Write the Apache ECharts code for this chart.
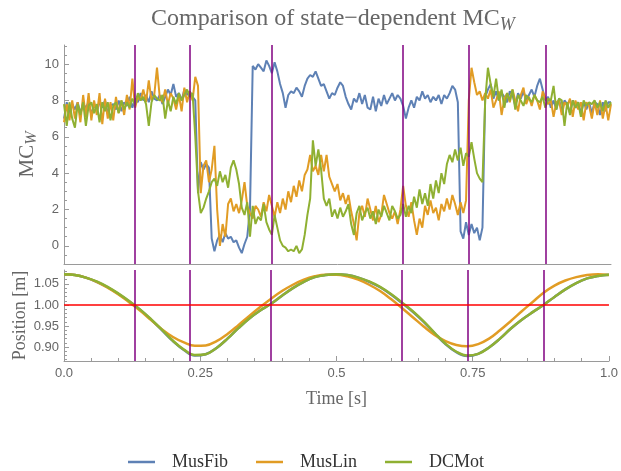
<!DOCTYPE html>
<html>
<head>
<meta charset="utf-8">
<script src="https://cdn.jsdelivr.net/npm/echarts/dist/echarts.min.js"></script>
<style>
html,body{margin:0;padding:0;background:#fff;}
#chart{width:621px;height:471px;}
</style>
</head>
<body>
<div id="chart"></div>
<script>
// ---- data ----
const SERIES_NAMES = ['MusFib', 'MusLin', 'DCMot'];
const MC_STEP = 0.005; // time step of the MC_W samples [s]
const MUSFIB_MC = [
  7.0, 7.9, 7.2, 7.8, 7.5, 7.9, 7.3, 7.8, 7.6, 7.9,
  7.2, 7.8, 7.4, 7.9, 7.6, 8.0, 7.3, 7.7, 7.8, 7.5,
  8.0, 7.4, 7.9, 7.7, 8.2, 7.6, 8.1, 7.9, 8.4, 8.0,
  8.3, 7.9, 8.5, 8.1, 8.0, 8.3, 7.8, 8.2, 8.6, 8.3,
  8.9, 8.2, 8.4, 8.0, 8.6, 8.3, 8.5, 8.2, 8.0, 2.9,
  4.6, 4.2, 4.5, 4.3, 0.4, -0.3, 0.3, 0.6, 0.2, 0.7,
  0.4, 0.5, 0.2, 0.3, -0.1, -0.4, 0.1, 0.5, 2.0, 9.9,
  9.7, 10.0, 9.8, 9.6, 10.2, 9.9, 9.5, 10.1, 9.6, 8.9,
  8.4, 7.6, 8.3, 8.5, 8.4, 8.7, 8.5, 8.2, 8.8, 9.2,
  9.4, 9.3, 9.6, 9.2, 8.8, 8.9, 8.5, 8.1, 8.4, 8.3,
  8.7, 9.0, 8.8, 8.2, 7.8, 7.5, 8.1, 7.9, 8.4, 7.8,
  8.3, 7.6, 7.5, 8.2, 7.4, 8.1, 7.7, 8.3, 7.8, 8.1,
  8.4, 8.0, 8.3, 8.1, 7.7, 7.0, 7.6, 8.0, 7.6, 8.2,
  8.0, 8.5, 8.1, 8.3, 7.9, 8.2, 8.0, 8.3, 7.8, 8.3,
  8.1, 8.4, 8.8, 8.6, 7.9, 0.8, 0.4, 1.3, 0.6, 1.2,
  0.7, 1.0, 0.3, 1.0, 8.2, 8.6, 8.9, 8.1, 8.5, 8.0,
  8.4, 8.2, 7.9, 8.5, 8.3, 7.7, 8.4, 8.1, 8.5, 8.0,
  8.3, 8.6, 8.2, 8.8, 9.2, 8.6, 8.0, 8.2, 7.6, 8.0,
  7.5, 8.1, 7.4, 8.0, 7.8, 7.3, 8.0, 7.6, 7.9, 7.3,
  7.9, 7.5, 7.9, 7.3, 7.9, 7.8, 7.2, 7.9, 7.4, 7.9,
  7.9
];
const MUSLIN_MC = [
  6.8, 7.8, 6.9, 8.0, 7.0, 7.9, 6.8, 8.3, 7.1, 8.4,
  6.9, 8.0, 7.2, 8.4, 6.7, 8.1, 7.0, 7.9, 6.9, 8.2,
  7.3, 8.0, 7.2, 8.3, 7.5, 9.2, 7.6, 8.2, 8.0, 8.6,
  7.9, 9.1, 8.0, 8.3, 9.8, 8.2, 7.9, 8.6, 7.8, 8.4,
  8.1, 7.5, 8.3, 7.4, 8.7, 7.9, 8.5, 8.0, 9.3, 8.8,
  2.9, 4.4, 4.7, 3.5, 4.2, 5.5, 2.0, 0.0, 1.2, 0.5,
  2.3, 2.6, 1.9, 2.3, 1.8, 2.5, 3.5, 2.2, 1.8, 1.5,
  2.2, 2.0, 1.6, 2.4, 1.9, 2.8, 2.2, 1.6, 2.4, 1.8,
  2.6, 2.0, 3.0, 2.4, 3.3, 2.7, 3.6, 3.0, 3.9, 4.2,
  5.0, 4.1, 4.4, 3.9, 5.0, 4.1, 5.0, 3.8, 3.4, 3.0,
  3.4, 2.5, 2.9, 2.3, 2.8, 1.9, 1.2, 0.3, 1.8, 2.2,
  1.6, 2.6, 2.0, 1.4, 2.2, 1.3, 1.7, 2.8, 2.3, 1.8,
  1.5, 1.9, 1.2, 2.0, 3.3, 2.2, 1.6, 2.4, 1.4, 0.6,
  1.5, 1.0, 2.2, 1.7, 2.5, 1.8, 2.1, 1.4, 2.3, 1.9,
  2.6, 2.0, 2.8, 2.3, 1.7, 2.4, 1.8, 2.5, 8.0, 9.8,
  9.0, 8.3, 8.5, 8.0, 8.4, 8.1, 8.6, 7.6, 8.0, 8.5,
  7.2, 8.1, 8.4, 7.9, 8.6, 8.0, 7.4, 8.3, 8.7, 7.8,
  8.2, 7.7, 8.3, 8.0, 7.5, 8.5, 8.1, 7.8, 8.0, 7.1,
  7.9, 8.0, 7.2, 7.9, 7.7, 8.1, 7.1, 8.0, 7.5, 7.9,
  6.9, 7.9, 7.7, 7.0, 7.9, 7.2, 8.0, 7.0, 7.8, 6.9,
  7.8
];
const DCMOT_MC = [
  7.8, 6.6, 7.9, 7.0, 6.5, 7.8, 7.2, 7.9, 6.6, 7.7,
  7.9, 7.3, 7.8, 6.8, 7.9, 7.4, 7.9, 6.9, 7.7, 7.9,
  7.3, 8.0, 7.5, 7.9, 7.6, 8.1, 7.8, 8.4, 8.0, 8.2,
  7.8, 6.6, 7.9, 8.3, 8.1, 8.0, 8.3, 7.0, 8.0, 7.4,
  8.2, 7.8, 8.4, 8.0, 8.3, 8.6, 8.2, 8.4, 6.0, 3.0,
  1.8, 2.1, 2.6, 3.0, 3.5, 3.7, 3.3, 4.1, 3.5, 3.9,
  3.2, 4.3, 4.7, 4.2, 3.4, 2.1, 1.7, 2.4, 0.5, 2.2,
  1.2, 1.6, 1.4, 2.3, 1.3, 0.9, 0.6, 1.7, 1.0, 0.3,
  0.0, -0.1, -0.3, -0.2, -0.3, 0.0, -0.4, -0.2, 0.6, 1.7,
  2.6, 5.8, 4.4, 5.3, 4.2, 2.6, 2.2, 2.6, 1.6, 2.0,
  1.5, 2.1, 1.6, 1.9, 2.3, 1.2, 0.6, 1.8, 2.2, 1.4,
  1.8, 2.1, 1.5, 1.9, 1.2, 2.0, 1.6, 2.2, 1.8, 1.4,
  2.2, 1.9, 1.5, 1.7, 2.3, 1.6, 2.2, 1.8, 2.7, 2.1,
  3.1, 2.3, 2.9, 2.2, 3.4, 2.6, 3.6, 2.9, 4.0, 3.4,
  4.5, 5.0, 4.6, 5.3, 4.7, 5.4, 4.4, 5.1, 4.9, 5.7,
  4.8, 4.0, 3.7, 3.5, 8.0, 9.8, 8.9, 8.2, 9.2, 8.0,
  8.6, 7.6, 8.4, 8.0, 8.6, 7.5, 8.3, 8.0, 7.7, 8.3,
  8.1, 7.9, 8.3, 8.0, 7.9, 8.2, 7.6, 8.1, 8.0, 8.8,
  7.5, 8.1, 8.0, 6.6, 7.9, 7.2, 8.0, 7.6, 7.9, 7.1,
  8.0, 7.7, 7.9, 7.8, 8.0, 7.6, 7.9, 7.4, 8.0, 7.6,
  7.9
];
const POS_STEP = 0.02; // time step of the position samples [s]
const MUSFIB_POS = [
  1.073, 1.071, 1.065, 1.055, 1.042, 1.026, 1.008, 0.988, 0.965, 0.940,
  0.914, 0.893, 0.880, 0.883, 0.898, 0.920, 0.945, 0.968, 0.987, 1.003,
  1.022, 1.040, 1.055, 1.066, 1.071, 1.073, 1.071, 1.065, 1.055, 1.042,
  1.025, 1.005, 0.984, 0.960, 0.933, 0.907, 0.888, 0.879, 0.884, 0.899,
  0.920, 0.944, 0.965, 0.983, 1.000, 1.019, 1.037, 1.052, 1.063, 1.069,
  1.072
];
const MUSLIN_POS = [
  1.073, 1.071, 1.065, 1.055, 1.041, 1.025, 1.006, 0.986, 0.964, 0.942,
  0.924, 0.911, 0.903, 0.904, 0.914, 0.931, 0.952, 0.974, 0.995, 1.015,
  1.033, 1.048, 1.060, 1.068, 1.072, 1.072, 1.068, 1.060, 1.048, 1.033,
  1.014, 0.993, 0.971, 0.949, 0.929, 0.914, 0.905, 0.902, 0.907, 0.920,
  0.940, 0.962, 0.985, 1.007, 1.029, 1.046, 1.058, 1.066, 1.071, 1.073,
  1.071
];
const DCMOT_POS = [
  1.073, 1.071, 1.065, 1.056, 1.043, 1.027, 1.009, 0.989, 0.966, 0.941,
  0.915, 0.894, 0.881, 0.883, 0.898, 0.920, 0.945, 0.968, 0.987, 1.003,
  1.022, 1.040, 1.055, 1.066, 1.071, 1.073, 1.071, 1.065, 1.056, 1.043,
  1.026, 1.006, 0.985, 0.961, 0.934, 0.908, 0.889, 0.880, 0.884, 0.899,
  0.920, 0.944, 0.965, 0.983, 1.000, 1.019, 1.037, 1.052, 1.063, 1.069,
  1.072
];
const EVENT_TIMES = [0.13, 0.23, 0.38, 0.62, 0.74, 0.88];
const REF_POSITION = 1.0;
const MC_TICKS = [0, 2, 4, 6, 8, 10];
const MC_MINOR_TICKS = [-0.5, 0.5, 1, 1.5, 2.5, 3, 3.5, 4.5, 5, 5.5, 6.5, 7, 7.5, 8.5, 9, 9.5, 10.5, 11];
const POS_TICKS = [0.90, 0.95, 1.00, 1.05];
const POS_MINOR_TICKS = [0.87, 0.88, 0.89, 0.91, 0.92, 0.93, 0.94, 0.96, 0.97, 0.98, 0.99, 1.01, 1.02, 1.03, 1.04, 1.06, 1.07, 1.08];
const TIME_TICK_LABELS = {0: '0.0', 0.25: '0.25', 0.5: '0.5', 0.75: '0.75', 1: '1.0'};

// ---- chart ----
const COLORS = ['#5E81B5', '#E19C24', '#8FB032'];
const SERIF = 'Liberation Serif';
const SANS = 'Liberation Sans';
const AXIS_GRAY = '#9a9a9a';
const TEXT_GRAY = '#666666';

function pairs(arr, step) {
  return arr.map((v, i) => [+(i * step).toFixed(4), v]);
}

const chart = echarts.init(document.getElementById('chart'), null, {renderer: 'canvas'});

const mcData = [MUSFIB_MC, MUSLIN_MC, DCMOT_MC];
const posData = [MUSFIB_POS, MUSLIN_POS, DCMOT_POS];

const series = [];
SERIES_NAMES.forEach((name, k) => {
  series.push({
    name: name, type: 'line', xAxisIndex: 0, yAxisIndex: 0,
    data: pairs(mcData[k], MC_STEP), showSymbol: false, symbol: 'none',
    lineStyle: {color: COLORS[k], width: 2}, itemStyle: {color: COLORS[k]},
    z: 2 + k, silent: true
  });
});
SERIES_NAMES.forEach((name, k) => {
  series.push({
    name: name, type: 'line', xAxisIndex: 1, yAxisIndex: 2,
    data: pairs(posData[k], POS_STEP), showSymbol: false, symbol: 'none', smooth: 0.4,
    lineStyle: {color: COLORS[k], width: 2.5}, itemStyle: {color: COLORS[k]},
    z: 2 + k, silent: true
  });
});
const vlineMark = {
  silent: true, symbol: ['none', 'none'], animation: false,
  label: {show: false},
  lineStyle: {color: '#800080', width: 1.5, type: 'solid'},
  data: EVENT_TIMES.map(t => ({xAxis: t}))
};
series.push({type: 'line', xAxisIndex: 0, yAxisIndex: 0, data: [], z: 10, markLine: vlineMark});
series.push({type: 'line', xAxisIndex: 1, yAxisIndex: 2, data: [], z: 10, markLine: vlineMark});
series.push({type: 'line', xAxisIndex: 1, yAxisIndex: 2, data: [], z: 9, markLine: {
  silent: true, symbol: ['none', 'none'], label: {show: false},
  lineStyle: {color: '#ff0000', width: 1.5, type: 'solid'},
  data: [{yAxis: REF_POSITION}]
}});

const axisLine = {show: true, onZero: false, lineStyle: {color: AXIS_GRAY, width: 1}};
const tickLabel = {color: TEXT_GRAY, fontFamily: SANS, fontSize: 13};

const option = {
  animation: false,
  backgroundColor: '#ffffff',
  title: {
    text: '{a|Comparison of state\u2212dependent MC}{w|W}',
    left: 146, top: -1,
    textStyle: {
      fontWeight: 'normal',
      rich: {
        a: {fontFamily: SERIF, fontSize: 24, fontWeight: 'normal', color: TEXT_GRAY, lineHeight: 30},
        w: {fontFamily: SERIF, fontSize: 18, fontWeight: 'normal', fontStyle: 'italic', color: TEXT_GRAY, lineHeight: 14, verticalAlign: 'bottom'}
      }
    }
  },
  legend: {
    data: SERIES_NAMES,
    left: 128, top: 453, padding: 0,
    icon: 'rect', itemWidth: 27, itemHeight: 2.5, itemGap: 28,
    textStyle: {fontFamily: SERIF, fontSize: 18, color: '#333', padding: [0, 0, 0, 12]},
    selectedMode: false
  },
  grid: [
    {left: 64, top: 45, width: 547, height: 219, containLabel: false},
    {left: 64, top: 270, width: 547, height: 91, containLabel: false}
  ],
  xAxis: [
    {gridIndex: 0, type: 'value', min: 0, max: 1, axisLine: axisLine,
     axisTick: {show: false}, axisLabel: {show: false}, splitLine: {show: false}},
    {gridIndex: 1, type: 'value', min: 0, max: 1, interval: 0.25, axisLine: axisLine,
     axisTick: {show: true, inside: true, length: 5, lineStyle: {color: AXIS_GRAY}},
     minorTick: {show: true, splitNumber: 5, length: 3, lineStyle: {color: AXIS_GRAY}},
     axisLabel: Object.assign({margin: 6, formatter: v => TIME_TICK_LABELS[v] !== undefined ? TIME_TICK_LABELS[v] : String(v)}, tickLabel),
     splitLine: {show: false},
     name: 'Time [s]', nameLocation: 'middle', nameGap: 29, nameMoveOverlap: false,
     nameTextStyle: {fontFamily: SERIF, fontSize: 18, color: TEXT_GRAY}}
  ],
  yAxis: [
    {gridIndex: 0, type: 'value', min: -1, max: 11.05, position: 'left', axisLine: axisLine,
     axisTick: {show: true, inside: true, length: 5, customValues: MC_TICKS, lineStyle: {color: AXIS_GRAY}},
     axisLabel: Object.assign({margin: 5, customValues: MC_TICKS}, tickLabel),
     splitLine: {show: false},
     name: '{a|MC}{w|W}', nameLocation: 'middle', nameGap: 24, nameMoveOverlap: false,
     nameTextStyle: {rich: {
       a: {fontFamily: SERIF, fontSize: 21, color: TEXT_GRAY, lineHeight: 26},
       w: {fontFamily: SERIF, fontSize: 16, fontStyle: 'italic', color: TEXT_GRAY, lineHeight: 12, verticalAlign: 'bottom'}
     }}},
    {gridIndex: 0, type: 'value', min: -1, max: 11.05, position: 'left', axisLine: {show: false},
     axisTick: {show: true, inside: true, length: 3, customValues: MC_MINOR_TICKS, lineStyle: {color: AXIS_GRAY}},
     axisLabel: {show: false}, splitLine: {show: false}},
    {gridIndex: 1, type: 'value', min: 0.867, max: 1.083, position: 'left', axisLine: axisLine,
     axisTick: {show: true, inside: true, length: 5, customValues: POS_TICKS, lineStyle: {color: AXIS_GRAY}},
     axisLabel: Object.assign({margin: 5, customValues: POS_TICKS, formatter: v => v.toFixed(2)}, tickLabel),
     splitLine: {show: false},
     name: 'Position [m]', nameLocation: 'middle', nameGap: 35, nameMoveOverlap: false,
     nameTextStyle: {fontFamily: SERIF, fontSize: 18, color: TEXT_GRAY}},
    {gridIndex: 1, type: 'value', min: 0.867, max: 1.083, position: 'left', axisLine: {show: false},
     axisTick: {show: true, inside: true, length: 3, customValues: POS_MINOR_TICKS, lineStyle: {color: AXIS_GRAY}},
     axisLabel: {show: false}, splitLine: {show: false}}
  ],
  series: series
};
chart.setOption(option);
</script>
</body>
</html>
